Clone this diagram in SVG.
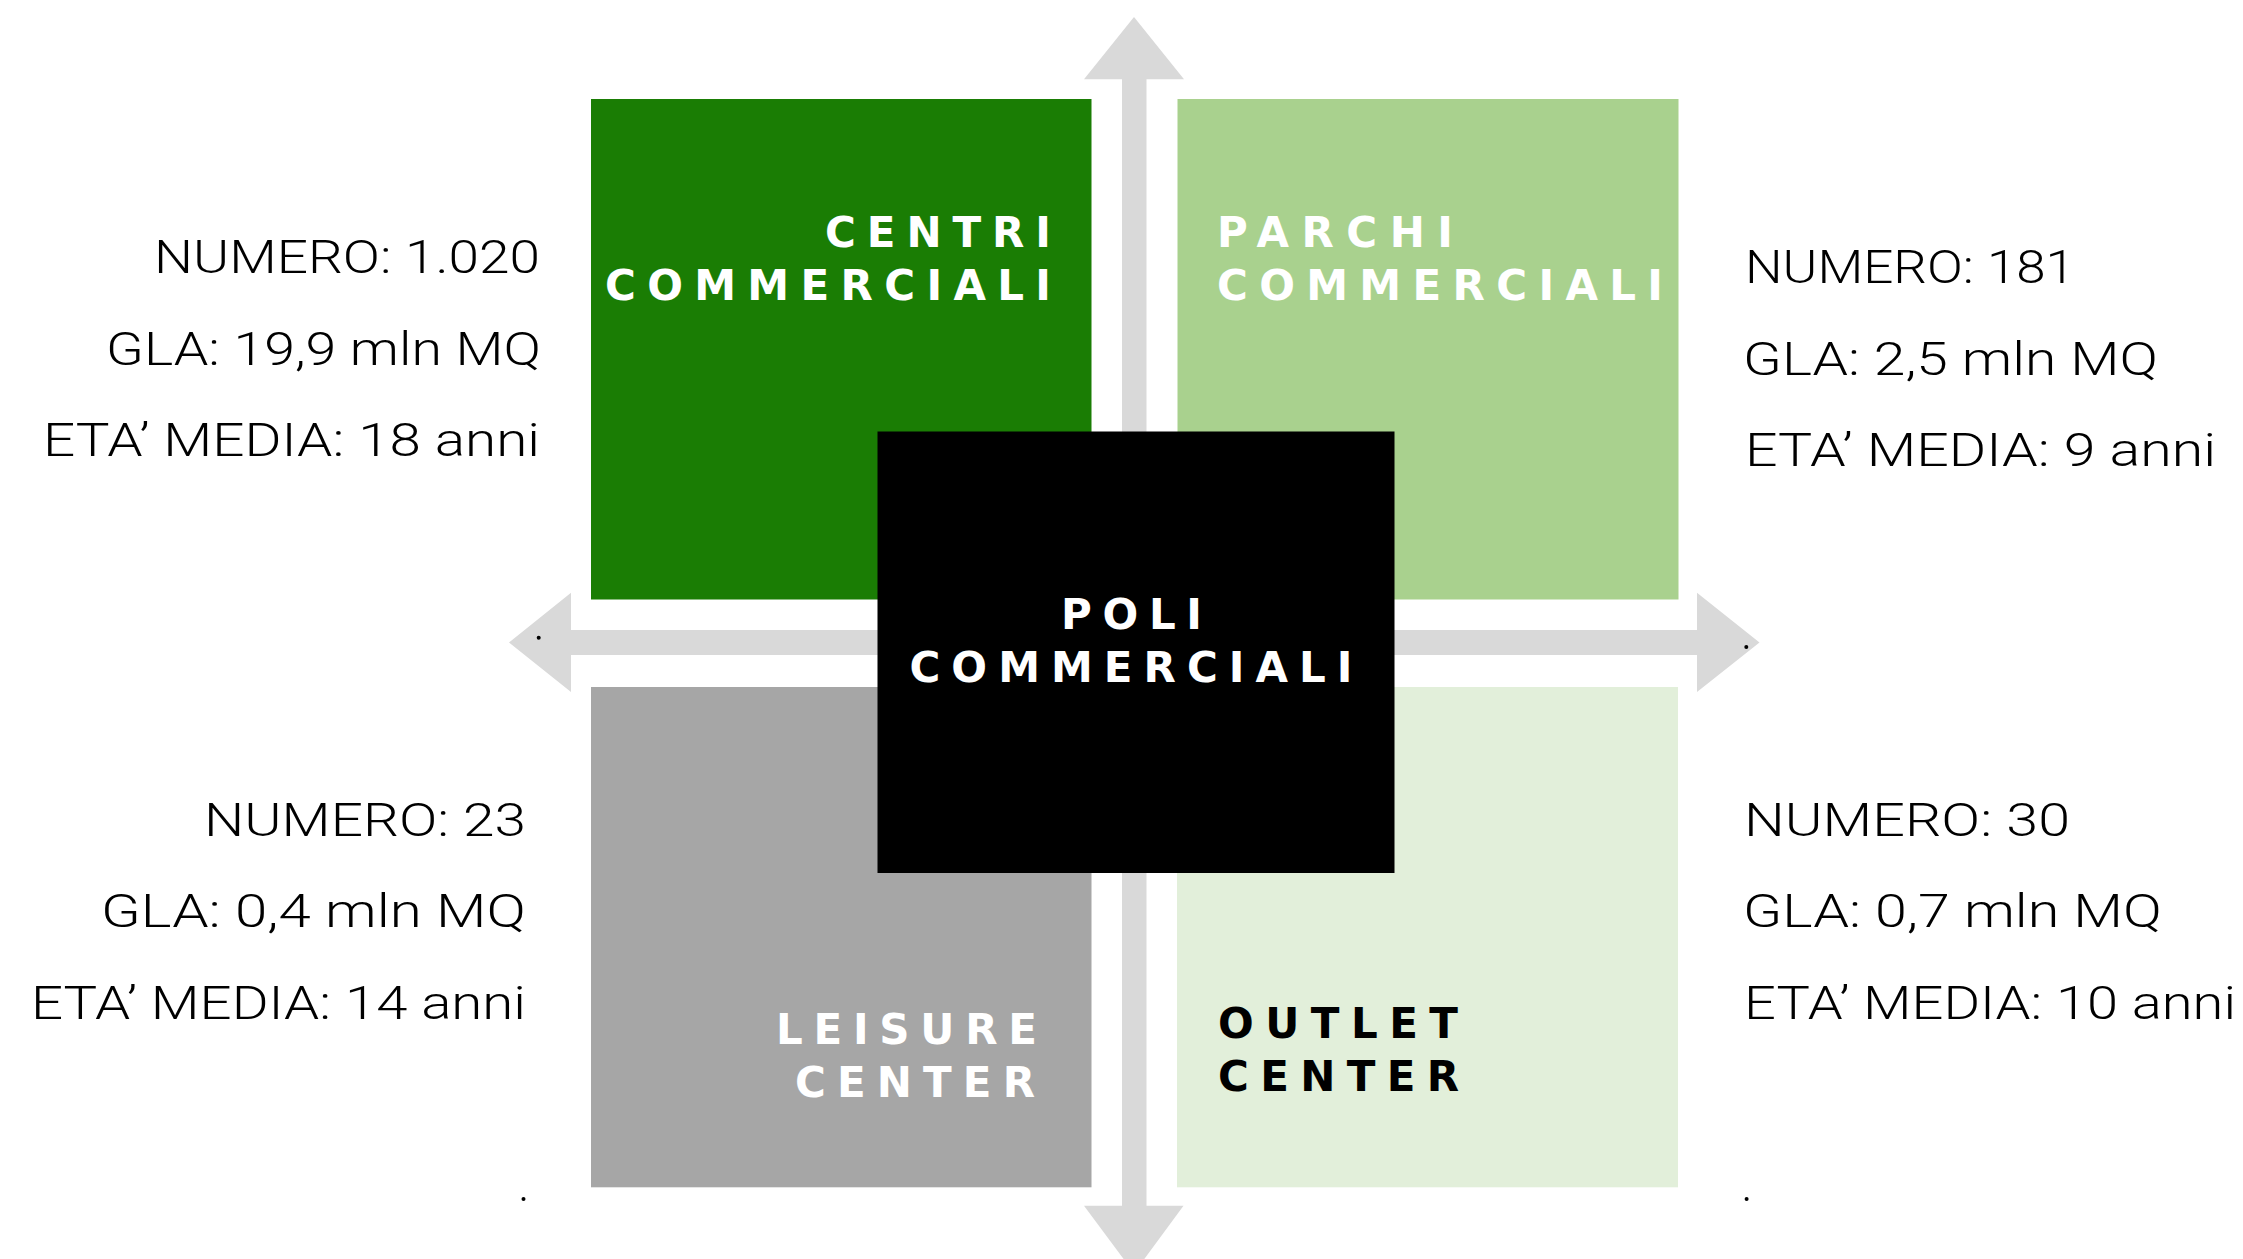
<svg xmlns="http://www.w3.org/2000/svg" width="2243" height="1259" viewBox="0 0 2243 1259">
  <style>
    .arrow { fill: #d9d9d9; }
    .lbl { font-family: "DejaVu Sans", "Liberation Sans", Arial, sans-serif; font-weight: 700; font-size: 42px; }
    .w { fill: #ffffff; }
    .k { fill: #000000; }
    .stat { font-family: "Roboto Light", "Lato Light", "Open Sans Light", Roboto, Lato, "Open Sans", "Liberation Sans", sans-serif; font-weight: 300; font-size: 46px; fill: #000000; }
    .dot { fill: #000000; }
  </style>
  <rect width="2243" height="1259" fill="#ffffff"/>

  <g id="connectors">
    <polygon class="arrow" points="1134,17 1184,79.3 1146.5,79.3 1146.5,1205.7 1183.5,1205.7 1134,1273 1084,1205.7 1122,1205.7 1122,79.3 1084,79.3"/>
    <polygon class="arrow" points="509,642.5 571,592.7 571,630 1697,630 1697,592.7 1759.5,642.5 1697,692 1697,655 571,655 571,692"/>
  </g>

  <g id="centri-commerciali">
    <rect x="591" y="99" width="500.5" height="500.5" fill="#1a7d04"/>
    <text class="lbl w" x="825" y="247" textLength="226" lengthAdjust="spacing">CENTRI</text>
    <text class="lbl w" x="605" y="300" textLength="446" lengthAdjust="spacing">COMMERCIALI</text>
  </g>

  <g id="parchi-commerciali">
    <rect x="1177.5" y="99" width="501" height="500.5" fill="#a9d18e"/>
    <text class="lbl w" x="1217" y="247" textLength="236" lengthAdjust="spacing">PARCHI</text>
    <text class="lbl w" x="1217" y="299.5" textLength="446" lengthAdjust="spacing">COMMERCIALI</text>
  </g>

  <g id="leisure-center">
    <rect x="591" y="687" width="500.5" height="500.3" fill="#a6a6a6"/>
    <text class="lbl w" x="776" y="1044" textLength="261" lengthAdjust="spacing">LEISURE</text>
    <text class="lbl w" x="795" y="1097" textLength="240" lengthAdjust="spacing">CENTER</text>
  </g>

  <g id="outlet-center">
    <rect x="1177" y="687" width="501" height="500.3" fill="#e2efda"/>
    <text class="lbl k" x="1218" y="1037.5" textLength="240" lengthAdjust="spacing">OUTLET</text>
    <text class="lbl k" x="1218" y="1090.5" textLength="241" lengthAdjust="spacing">CENTER</text>
  </g>

  <g id="poli-commerciali">
    <rect x="877.5" y="431.5" width="517" height="441.5" fill="#000000"/>
    <text class="lbl w" x="1061" y="628.5" textLength="141" lengthAdjust="spacing">POLI</text>
    <text class="lbl w" x="909.5" y="681.5" textLength="443" lengthAdjust="spacing">COMMERCIALI</text>
  </g>

  <g id="stats-centri">
    <text class="stat" x="154" y="273" textLength="386" lengthAdjust="spacingAndGlyphs">NUMERO: 1.020</text>
    <text class="stat" x="106" y="365" textLength="435" lengthAdjust="spacingAndGlyphs">GLA: 19,9 mln MQ</text>
    <text class="stat" x="43" y="456" textLength="497" lengthAdjust="spacingAndGlyphs">ETA’ MEDIA: 18 anni</text>
  </g>

  <g id="stats-parchi">
    <text class="stat" x="1745" y="283" textLength="330" lengthAdjust="spacingAndGlyphs">NUMERO: 181</text>
    <text class="stat" x="1743" y="375" textLength="415" lengthAdjust="spacingAndGlyphs">GLA: 2,5 mln MQ</text>
    <text class="stat" x="1745" y="466" textLength="471" lengthAdjust="spacingAndGlyphs">ETA’ MEDIA: 9 anni</text>
  </g>

  <g id="stats-leisure">
    <text class="stat" x="204" y="836" textLength="322" lengthAdjust="spacingAndGlyphs">NUMERO: 23</text>
    <text class="stat" x="101" y="927" textLength="425" lengthAdjust="spacingAndGlyphs">GLA: 0,4 mln MQ</text>
    <text class="stat" x="31" y="1019" textLength="495" lengthAdjust="spacingAndGlyphs">ETA’ MEDIA: 14 anni</text>
  </g>

  <g id="stats-outlet">
    <text class="stat" x="1744" y="836" textLength="326" lengthAdjust="spacingAndGlyphs">NUMERO: 30</text>
    <text class="stat" x="1743" y="927" textLength="419" lengthAdjust="spacingAndGlyphs">GLA: 0,7 mln MQ</text>
    <text class="stat" x="1744" y="1019" textLength="492" lengthAdjust="spacingAndGlyphs">ETA’ MEDIA: 10 anni</text>
  </g>

  <g id="dots">
    <circle class="dot" cx="538.7" cy="637.7" r="2"/>
    <circle class="dot" cx="1746.3" cy="647" r="2"/>
    <circle class="dot" cx="523.5" cy="1199" r="2"/>
    <circle class="dot" cx="1746.6" cy="1199" r="2"/>
  </g>
</svg>
